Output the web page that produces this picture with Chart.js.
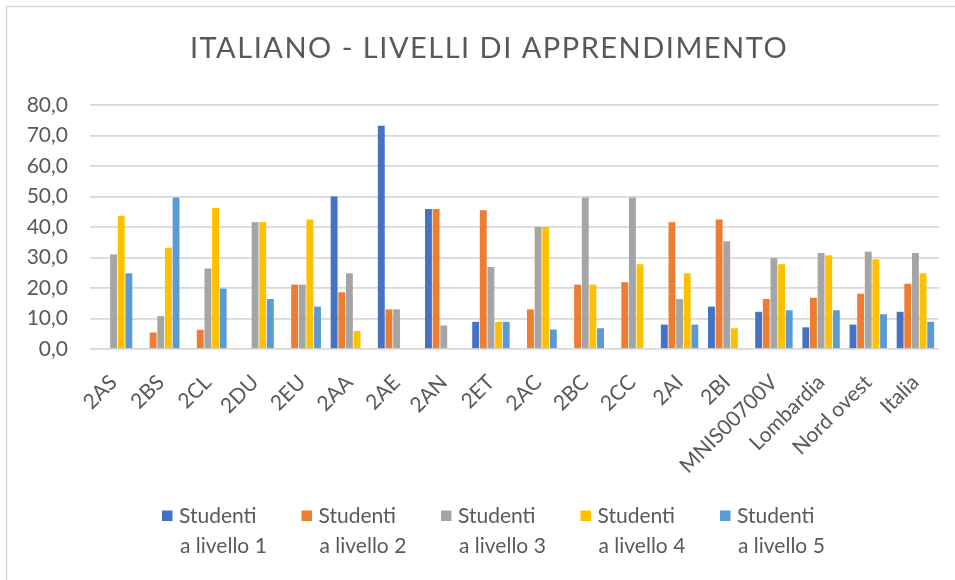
<!DOCTYPE html>
<html>
<head>
<meta charset="utf-8">
<script src="https://cdn.jsdelivr.net/npm/chart.js@4"></script>
<style>
  html, body { margin: 0; padding: 0; background: #fff; }
  #wrap { width: 955px; height: 580px; }
</style>
</head>
<body>
<div id="wrap"><canvas id="livelliChart" width="955" height="580"></canvas></div>
<script>
const classi = ['2AS', '2BS', '2CL', '2DU', '2EU', '2AA', '2AE', '2AN', '2ET', '2AC',
    '2BC', '2CC', '2AI', '2BI', 'MNIS00700V', 'Lombardia', 'Nord ovest', 'Italia'];

const livello1 = [0, 0, 0, 0, 0, 50.0, 73.2, 45.9, 8.9, 0, 0, 0, 8.0, 13.9, 12.2, 7.1, 8.0, 12.2];
const livello2 = [0, 5.4, 6.3, 0, 21.1, 18.6, 13.0, 45.9, 45.5, 13.0, 21.1, 21.9, 41.6, 42.5, 16.4, 16.8, 18.1, 21.4];
const livello3 = [31.0, 10.8, 26.4, 41.6, 21.1, 24.8, 13.0, 7.7, 26.9, 40.0, 49.7, 49.7, 16.4, 35.3, 29.8, 31.5, 31.9, 31.5];
const livello4 = [43.7, 33.2, 46.2, 41.6, 42.5, 5.9, 0, 0, 8.9, 40.0, 21.1, 27.8, 24.8, 6.8, 27.8, 30.7, 29.4, 24.8];
const livello5 = [24.8, 49.7, 19.8, 16.4, 13.9, 0, 0, 0, 8.9, 6.4, 6.8, 0, 8.0, 0, 12.7, 12.7, 11.4, 8.9];

const serieNomi = [
    ['Studenti', 'a livello 1'],
    ['Studenti', 'a livello 2'],
    ['Studenti', 'a livello 3'],
    ['Studenti', 'a livello 4'],
    ['Studenti', 'a livello 5']
];
const colori = ['#4472C4', '#ED7D31', '#A5A5A5', '#FFC000', '#5B9BD5'];

const titolo = 'ITALIANO - LIVELLI DI APPRENDIMENTO';
const yMax = 80;
const yStep = 10;

const testo = '#595959';
const griglia = '#d9d9d9';

// titolo, bordo e legenda su due righe disegnati a mano
const decorPlugin = {
    id: 'decor',
    beforeDraw(chart) {
        const c = chart.ctx;
        c.save();
        c.strokeStyle = griglia;
        c.lineWidth = 1.5;
        c.beginPath();
        c.moveTo(6.5, 580);
        c.lineTo(6.5, 6.5);
        c.lineTo(955, 6.5);
        c.stroke();
        c.restore();
    },
    afterDraw(chart) {
        const c = chart.ctx;
        c.save();
        c.fillStyle = testo;
        c.font = '29px Lato';
        c.letterSpacing = '1.5px';
        c.textAlign = 'center';
        c.textBaseline = 'middle';
        c.fillText(titolo, 489, 49);
        c.letterSpacing = '0px';

        c.font = '21px Lato';
        c.textAlign = 'left';
        chart.data.datasets.forEach((ds, i) => {
            const x = 162 + i * 139.5;
            c.fillStyle = ds.backgroundColor;
            c.fillRect(x, 510.5, 10.5, 10.5);
            c.fillStyle = testo;
            c.fillText(serieNomi[i][0], x + 17, 516);
            c.fillText(serieNomi[i][1], x + 18, 546);
        });
        c.restore();
    }
};

const serie = [livello1, livello2, livello3, livello4, livello5];

new Chart(document.getElementById('livelliChart'), {
    type: 'bar',
    data: {
        labels: classi,
        datasets: serie.map((d, i) => ({
            label: serieNomi[i].join(' '),
            data: d,
            backgroundColor: colori[i],
            categoryPercentage: 0.81,
            barPercentage: 0.9
        }))
    },
    options: {
        responsive: false,
        animation: false,
        layout: { padding: { top: 105, right: 16, left: 0, bottom: 0 } },
        plugins: {
            legend: { display: false },
            title: { display: false },
            tooltip: { enabled: false }
        },
        scales: {
            x: {
                grid: { display: false },
                border: { display: false },
                ticks: {
                    color: testo,
                    font: { family: 'Lato', size: 21 },
                    minRotation: 45,
                    maxRotation: 45,
                    autoSkip: false,
                    padding: 13
                },
                afterFit(scale) { scale.height = 231; }
            },
            y: {
                min: 0,
                max: yMax,
                grid: { color: griglia, lineWidth: 1.7, drawTicks: false },
                border: { display: false },
                ticks: {
                    stepSize: yStep,
                    color: testo,
                    font: { family: 'Lato', size: 21 },
                    padding: 22,
                    callback: v => v.toFixed(1).replace('.', ',')
                },
                afterFit(scale) { scale.width = 90; }
            }
        }
    },
    plugins: [decorPlugin]
});
</script>
</body>
</html>
